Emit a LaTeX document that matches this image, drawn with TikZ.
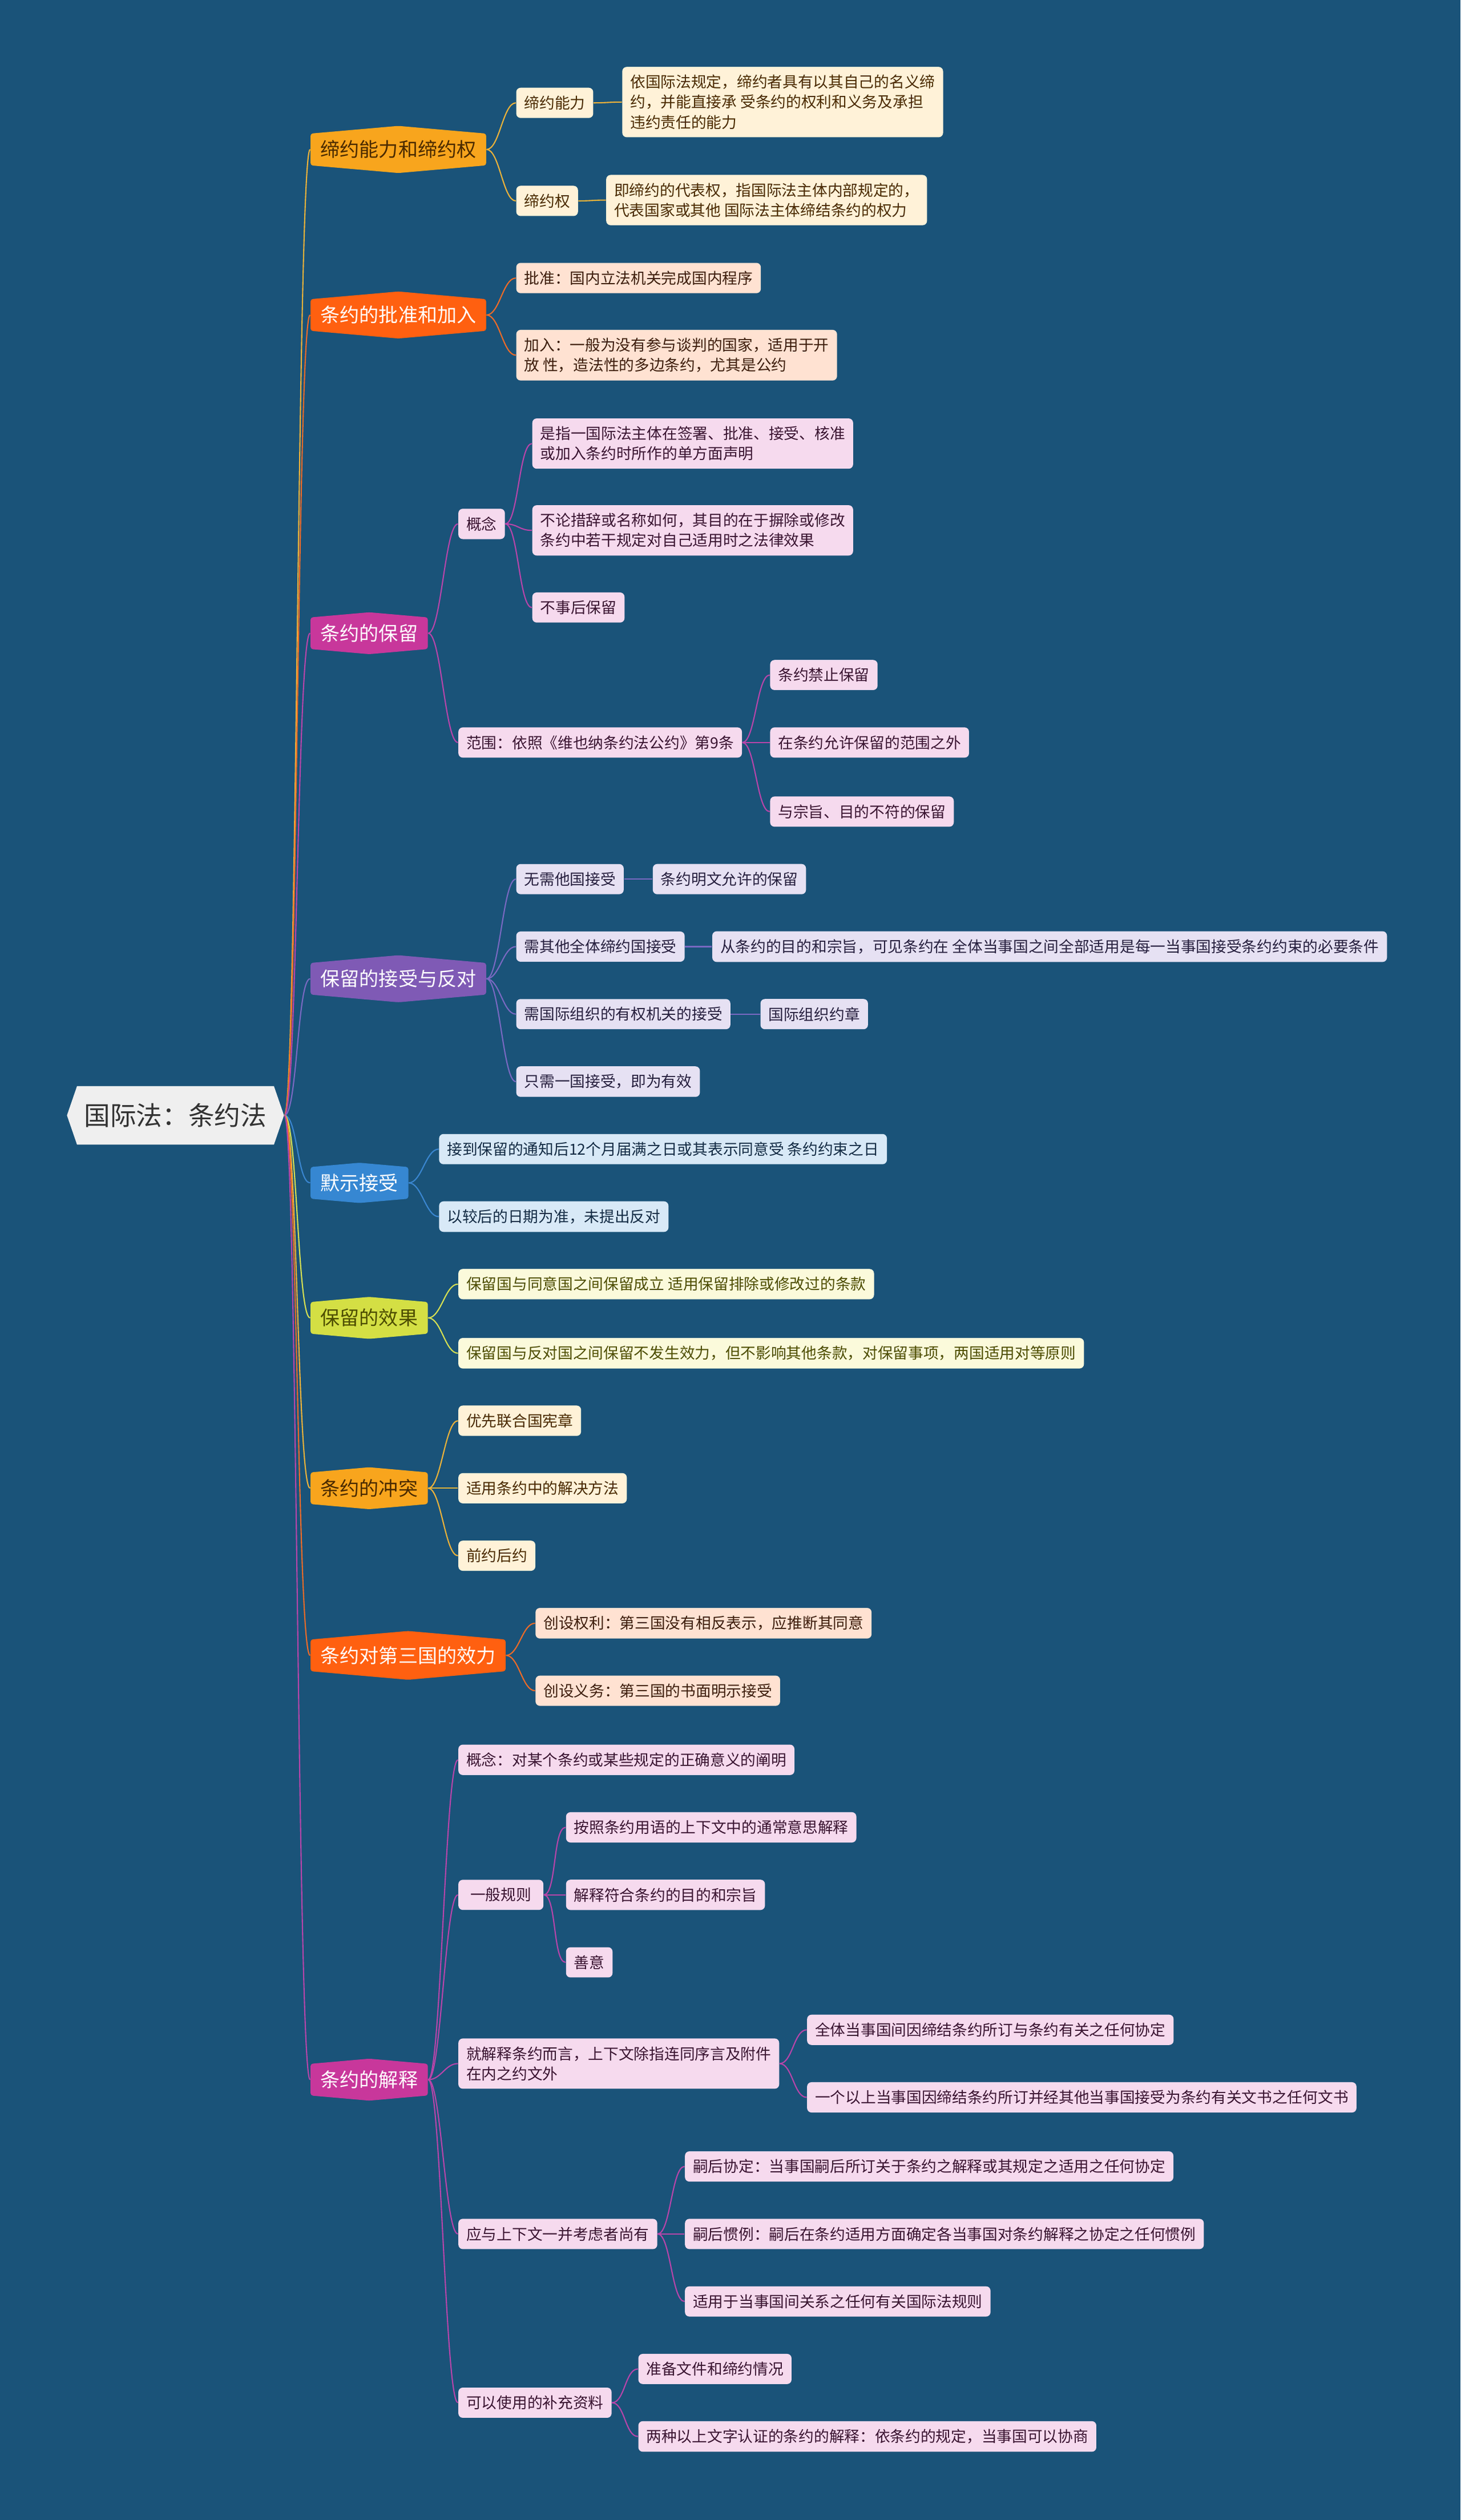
\documentclass[tikz,border=0pt]{standalone}
\usepackage{fontspec}
\setmainfont{Noto Sans CJK SC}
\usetikzlibrary{shapes.symbols}
\definecolor{mybg}{HTML}{1A5379}
\definecolor{myroot}{HTML}{EFEFEF}
\definecolor{myink}{HTML}{333333}
\definecolor{myamber}{HTML}{F8A51D}
\definecolor{myamberlt}{HTML}{FFF2D8}
\definecolor{myamberdk}{HTML}{4A2A00}
\definecolor{myamberln}{HTML}{EDB23A}
\definecolor{myorange}{HTML}{FF6010}
\definecolor{myorangelt}{HTML}{FFE2D2}
\definecolor{myorangedk}{HTML}{3D1D0C}
\definecolor{myorangeln}{HTML}{EF6B28}
\definecolor{mypink}{HTML}{C8379B}
\definecolor{mypinklt}{HTML}{F6DAEE}
\definecolor{mypinkdk}{HTML}{3A1431}
\definecolor{mypinkln}{HTML}{B845AA}
\definecolor{mypurple}{HTML}{7F5AB5}
\definecolor{mypurplelt}{HTML}{E6E1F3}
\definecolor{mypurpledk}{HTML}{261F3E}
\definecolor{mypurpleln}{HTML}{7A69C2}
\definecolor{myblue}{HTML}{3687D2}
\definecolor{mybluelt}{HTML}{D8E9F7}
\definecolor{mybluedk}{HTML}{132B44}
\definecolor{myblueln}{HTML}{3A86D0}
\definecolor{mylime}{HTML}{D4DF44}
\definecolor{mylimelt}{HTML}{FBFADB}
\definecolor{mylimedk}{HTML}{4D4D00}
\definecolor{mylimeln}{HTML}{D6E052}

\begin{document}
\begin{tikzpicture}[x=0.028163cm, y=-0.028163cm,
                    root/.style={shape=signal, signal to=east and west, signal pointer angle=142,
                        fill=myroot, text=myink, font=\fontsize{13}{15}\selectfont,
                        inner xsep=3.6pt, inner ysep=8.6pt, anchor=east},
                    topic/.style={shape=signal, signal to=north and south, signal pointer angle=170,
                        rounded corners=1.2pt, fill=#1, text=white, font=\fontsize{9.7}{12}\selectfont,
                        inner xsep=5pt, inner ysep=3.4pt, anchor=west},
                    leaf/.style={rectangle, rounded corners=2.2pt, fill=#1, font=\fontsize{7.6}{10}\selectfont,
                        inner xsep=4pt, inner ysep=4pt, align=left, anchor=west},
                    link/.style={draw=#1, line width=0.6pt,
                        to path={.. controls +(8,0) and +(-8,0) .. (\tikztotarget)}}]
\fill[mybg] (0,0) rectangle (909,1568);

\node[root] (root) at (177,694) {国际法：条约法};

% first level
\node[topic=myamber, text=myamberdk] (b1) at (193,93) {缔约能力和缔约权};
\node[topic=myorange] (b2) at (193,196) {条约的批准和加入};
\node[topic=mypink] (b3) at (193,394) {条约的保留};
\node[topic=mypurple] (b4) at (193,609) {保留的接受与反对};
\node[topic=myblue] (b5) at (193,736) {默示接受};
\node[topic=mylime, text=mylimedk] (b6) at (193,820) {保留的效果};
\node[topic=myamber, text=myamberdk] (b7) at (193,926) {条约的冲突};
\node[topic=myorange] (b8) at (193,1030) {条约对第三国的效力};
\node[topic=mypink] (b9) at (193,1294) {条约的解释};

% 缔约能力和缔约权
\node[leaf=myamberlt, text=myamberdk] (b1a) at (321,64) {缔约能力};
\node[leaf=myamberlt, text=myamberdk] (b1a1) at (387,63.5) {依国际法规定，缔约者具有以其自己的名义缔\\约，并能直接承 受条约的权利和义务及承担\\违约责任的能力};
\node[leaf=myamberlt, text=myamberdk] (b1b) at (321,125) {缔约权};
\node[leaf=myamberlt, text=myamberdk] (b1b1) at (377,124.5) {即缔约的代表权，指国际法主体内部规定的，\\代表国家或其他 国际法主体缔结条约的权力};

% 条约的批准和加入
\node[leaf=myorangelt, text=myorangedk] (b2a) at (321,173) {批准：国内立法机关完成国内程序};
\node[leaf=myorangelt, text=myorangedk] (b2b) at (321,221) {加入：一般为没有参与谈判的国家，适用于开\\放 性，造法性的多边条约，尤其是公约};

% 条约的保留
\node[leaf=mypinklt, text=mypinkdk] (b3a) at (285,326) {概念};
\node[leaf=mypinklt, text=mypinkdk] (b3a1) at (331,276) {是指一国际法主体在签署、批准、接受、核准\\或加入条约时所作的单方面声明};
\node[leaf=mypinklt, text=mypinkdk] (b3a2) at (331,330) {不论措辞或名称如何，其目的在于摒除或修改\\条约中若干规定对自己适用时之法律效果};
\node[leaf=mypinklt, text=mypinkdk] (b3a3) at (331,378) {不事后保留};
\node[leaf=mypinklt, text=mypinkdk] (b3b) at (285,462) {范围：依照《维也纳条约法公约》第9条};
\node[leaf=mypinklt, text=mypinkdk] (b3b1) at (479,420) {条约禁止保留};
\node[leaf=mypinklt, text=mypinkdk] (b3b2) at (479,462) {在条约允许保留的范围之外};
\node[leaf=mypinklt, text=mypinkdk] (b3b3) at (479,505) {与宗旨、目的不符的保留};

% 保留的接受与反对
\node[leaf=mypurplelt, text=mypurpledk] (b4a) at (321,547) {无需他国接受};
\node[leaf=mypurplelt, text=mypurpledk] (b4a1) at (406,547) {条约明文允许的保留};
\node[leaf=mypurplelt, text=mypurpledk] (b4b) at (321,589) {需其他全体缔约国接受};
\node[leaf=mypurplelt, text=mypurpledk] (b4b1) at (443,589) {从条约的目的和宗旨，可见条约在 全体当事国之间全部适用是每一当事国接受条约约束的必要条件};
\node[leaf=mypurplelt, text=mypurpledk] (b4c) at (321,631) {需国际组织的有权机关的接受};
\node[leaf=mypurplelt, text=mypurpledk] (b4c1) at (473,631) {国际组织约章};
\node[leaf=mypurplelt, text=mypurpledk] (b4d) at (321,673) {只需一国接受，即为有效};

% 默示接受
\node[leaf=mybluelt, text=mybluedk] (b5a) at (273,715) {接到保留的通知后12个月届满之日或其表示同意受 条约约束之日};
\node[leaf=mybluelt, text=mybluedk] (b5b) at (273,757) {以较后的日期为准，未提出反对};

% 保留的效果
\node[leaf=mylimelt, text=mylimedk] (b6a) at (285,799) {保留国与同意国之间保留成立 适用保留排除或修改过的条款};
\node[leaf=mylimelt, text=mylimedk] (b6b) at (285,842) {保留国与反对国之间保留不发生效力，但不影响其他条款，对保留事项，两国适用对等原则};

% 条约的冲突
\node[leaf=myamberlt, text=myamberdk] (b7a) at (285,884) {优先联合国宪章};
\node[leaf=myamberlt, text=myamberdk] (b7b) at (285,926) {适用条约中的解决方法};
\node[leaf=myamberlt, text=myamberdk] (b7c) at (285,968) {前约后约};

% 条约对第三国的效力
\node[leaf=myorangelt, text=myorangedk] (b8a) at (333,1010) {创设权利：第三国没有相反表示，应推断其同意};
\node[leaf=myorangelt, text=myorangedk] (b8b) at (333,1052) {创设义务：第三国的书面明示接受};

% 条约的解释
\node[leaf=mypinklt, text=mypinkdk] (b9a) at (285,1095) {概念：对某个条约或某些规定的正确意义的阐明};
\node[leaf=mypinklt, text=mypinkdk, minimum width=1.49cm] (b9b) at (285,1179) {一般规则};
\node[leaf=mypinklt, text=mypinkdk] (b9b1) at (352,1137) {按照条约用语的上下文中的通常意思解释};
\node[leaf=mypinklt, text=mypinkdk] (b9b2) at (352,1179) {解释符合条约的目的和宗旨};
\node[leaf=mypinklt, text=mypinkdk] (b9b3) at (352,1221) {善意};
\node[leaf=mypinklt, text=mypinkdk] (b9c) at (285,1284) {就解释条约而言，上下文除指连同序言及附件\\在内之约文外};
\node[leaf=mypinklt, text=mypinkdk] (b9c1) at (502,1263) {全体当事国间因缔结条约所订与条约有关之任何协定};
\node[leaf=mypinklt, text=mypinkdk] (b9c2) at (502,1305) {一个以上当事国因缔结条约所订并经其他当事国接受为条约有关文书之任何文书};
\node[leaf=mypinklt, text=mypinkdk] (b9d) at (285,1390) {应与上下文一并考虑者尚有};
\node[leaf=mypinklt, text=mypinkdk] (b9d1) at (426,1348) {嗣后协定：当事国嗣后所订关于条约之解释或其规定之适用之任何协定};
\node[leaf=mypinklt, text=mypinkdk] (b9d2) at (426,1390) {嗣后惯例：嗣后在条约适用方面确定各当事国对条约解释之协定之任何惯例};
\node[leaf=mypinklt, text=mypinkdk] (b9d3) at (426,1432) {适用于当事国间关系之任何有关国际法规则};
\node[leaf=mypinklt, text=mypinkdk] (b9e) at (285,1495) {可以使用的补充资料};
\node[leaf=mypinklt, text=mypinkdk] (b9e1) at (397,1474) {准备文件和缔约情况};
\node[leaf=mypinklt, text=mypinkdk] (b9e2) at (397,1516) {两种以上文字认证的条约的解释：依条约的规定，当事国可以协商};

% connectors
\foreach \b/\c in {b1/myamberln, b2/myorangeln, b3/mypinkln, b4/mypurpleln, b5/myblueln,
                   b6/mylimeln, b7/myamberln, b8/myorangeln, b9/mypinkln}
    \draw[link=\c] (root.east) to (\b.west);

\foreach \p/\q in {b1/b1a, b1/b1b, b1a/b1a1, b1b/b1b1, b7/b7a, b7/b7b, b7/b7c}
    \draw[link=myamberln] (\p.east) to (\q.west);
\foreach \p/\q in {b2/b2a, b2/b2b, b8/b8a, b8/b8b}
    \draw[link=myorangeln] (\p.east) to (\q.west);
\foreach \p/\q in {b3/b3a, b3/b3b, b3a/b3a1, b3a/b3a2, b3a/b3a3, b3b/b3b1, b3b/b3b2, b3b/b3b3,
                   b9/b9a, b9/b9b, b9/b9c, b9/b9d, b9/b9e, b9b/b9b1, b9b/b9b2, b9b/b9b3,
                   b9c/b9c1, b9c/b9c2, b9d/b9d1, b9d/b9d2, b9d/b9d3, b9e/b9e1, b9e/b9e2}
    \draw[link=mypinkln] (\p.east) to (\q.west);
\foreach \p/\q in {b4/b4a, b4/b4b, b4/b4c, b4/b4d, b4a/b4a1, b4b/b4b1, b4c/b4c1}
    \draw[link=mypurpleln] (\p.east) to (\q.west);
\foreach \p/\q in {b5/b5a, b5/b5b}
    \draw[link=myblueln] (\p.east) to (\q.west);
\foreach \p/\q in {b6/b6a, b6/b6b}
    \draw[link=mylimeln] (\p.east) to (\q.west);
\end{tikzpicture}
\end{document}
